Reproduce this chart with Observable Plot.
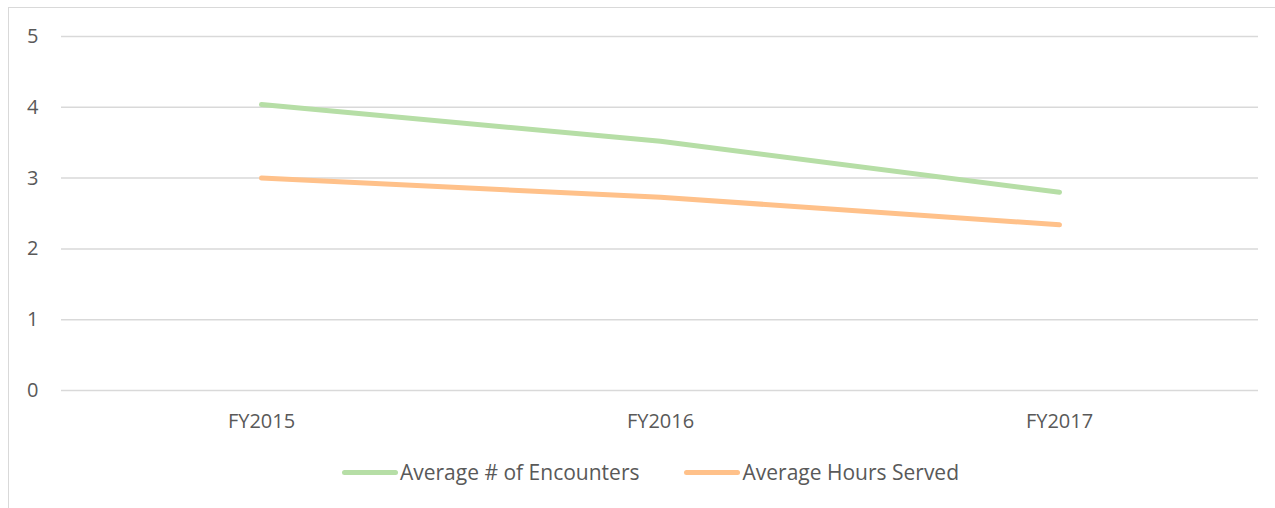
<!DOCTYPE html>
<html>
<head>
<meta charset="utf-8">
<script src="https://cdn.jsdelivr.net/npm/d3@7"></script>
<script src="https://cdn.jsdelivr.net/npm/@observablehq/plot@0.6"></script>
<style>
  html, body { margin: 0; padding: 0; background: #fff; overflow: hidden; }
  #wrap { position: relative; width: 1275px; height: 508px; font-family: "Open Sans", sans-serif; }
  #frame { position: absolute; left: 8px; top: 7px; width: 1400px; height: 700px; border-left: 1px solid #d9d9d9; border-top: 1px solid #d9d9d9; }
  #chart { position: absolute; left: 0; top: 0; }
  #legend { position: absolute; left: 0; top: 458px; width: 1275px; display: flex; justify-content: center; gap: 45px; font-size: 21px; color: #595959; padding-left: 26px; box-sizing: border-box; }
  .item { display: flex; align-items: center; gap: 2px; }
  .sw { width: 56px; height: 5px; border-radius: 3px; }
</style>
</head>
<body>
<div id="wrap">
  <div id="frame"></div>
  <div id="chart"></div>
  <div id="legend"></div>
</div>
<script>
const categories = ["FY2015", "FY2016", "FY2017"];
const encounters = [4.04, 3.52, 2.80];
const hours = [3.00, 2.73, 2.34];
const seriesNames = ["Average # of Encounters", "Average Hours Served"];
const seriesColors = ["#b6dea6", "#ffc18a"];
const yTicks = [0, 1, 2, 3, 4, 5];

const rows = [];
categories.forEach((c, i) => {
  rows.push({cat: c, value: encounters[i], series: seriesNames[0]});
  rows.push({cat: c, value: hours[i], series: seriesNames[1]});
});

const plot = Plot.plot({
  width: 1275,
  height: 440,
  marginTop: 36,
  marginBottom: 50,
  marginLeft: 61,
  marginRight: 17,
  style: { fontFamily: "Open Sans, sans-serif", fontSize: "20px", color: "#595959", background: "transparent" },
  x: { type: "point", domain: categories, padding: 0.5, label: null },
  y: { domain: [0, 5], ticks: yTicks, label: null },
  color: { domain: seriesNames, range: seriesColors },
  marks: [
    Plot.ruleY(yTicks, { stroke: "#d9d9d9", strokeWidth: 1.5 }),
    Plot.axisY({ ticks: yTicks, tickFormat: "d", tickSize: 0, tickPadding: 23, label: null, fill: "#595959" }),
    Plot.axisX({ tickSize: 0, tickPadding: 23, label: null, fill: "#595959" }),
    Plot.line(rows, { x: "cat", y: "value", stroke: "series", z: "series", strokeWidth: 5, strokeLinecap: "round", strokeLinejoin: "round" })
  ]
});
document.getElementById("chart").appendChild(plot);

const legend = document.getElementById("legend");
seriesNames.forEach((n, i) => {
  const it = document.createElement("div");
  it.className = "item";
  const sw = document.createElement("div");
  sw.className = "sw";
  sw.style.background = seriesColors[i];
  const t = document.createElement("span");
  t.textContent = n;
  it.appendChild(sw);
  it.appendChild(t);
  legend.appendChild(it);
});
</script>
</body>
</html>
